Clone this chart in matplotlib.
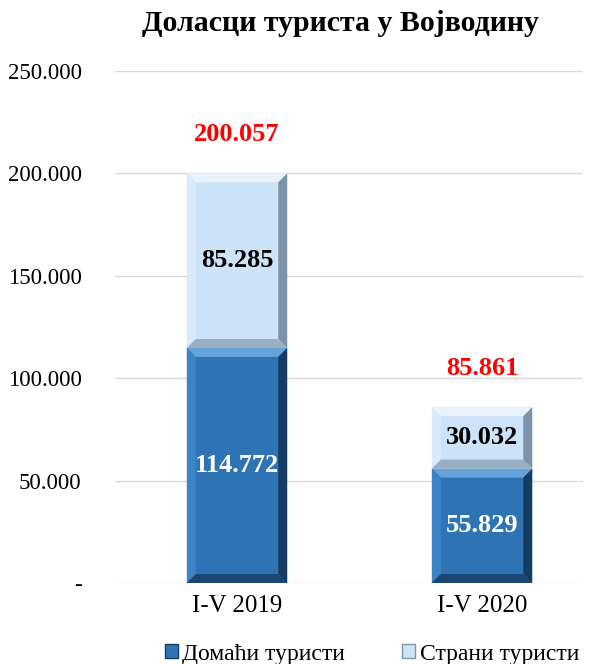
import numpy as np
import matplotlib.pyplot as plt
from matplotlib.patches import Polygon, Patch
from matplotlib.ticker import FuncFormatter

# Data
categories = ['I-V 2019', 'I-V 2020']
domestic = [114772, 55829]
foreign = [85285, 30032]
totals = [200057, 85861]
series_names = ['Домаћи туристи', 'Страни туристи']

plt.rcParams['font.family'] = ['Liberation Serif', 'DejaVu Serif']

fig = plt.figure(figsize=(5.98, 6.64), dpi=100)
ax = fig.add_axes([0.1923, 0.122, 0.7826, 0.771])

x = np.arange(len(categories))
width = 0.41

# colours: (face, top, left, right, bottom)
dom_cols = ('#2E74B5', '#66A3DB', '#3C84C6', '#163C62', '#1C4672')
for_cols = ('#CCE3F8', '#E8F3FD', '#D9EAFA', '#7D93A9', '#9AAFC4')

bars_dom = ax.bar(x, domestic, width, color=dom_cols[0], zorder=2)
bars_for = ax.bar(x, foreign, width, bottom=domestic, color=for_cols[0], zorder=2)

ax.set_xlim(-0.498, 1.412)
ax.set_ylim(0, 250000)
ax.set_yticks(np.arange(0, 250001, 50000))


def fmt(v, pos):
    if v == 0:
        return '-'
    return f'{int(v):,}'.replace(',', '.')


ax.yaxis.set_major_formatter(FuncFormatter(fmt))
ax.set_xticks(x)
ax.set_xticklabels(categories)
ax.tick_params(axis='y', length=0, labelsize=16.5, pad=24)
ax.tick_params(axis='x', length=0, labelsize=18, pad=9)
ax.grid(axis='y', color='#D9D9D9', linewidth=1, zorder=0)
for s in ax.spines.values():
    s.set_visible(False)


# bevel edges drawn in pixel space around each bar
def bevel(bar, cols, b=9):
    (x0, y0), (x1, y1) = ax.transData.transform(
        [(bar.get_x(), bar.get_y()), (bar.get_x() + bar.get_width(), bar.get_y() + bar.get_height())])
    bb = min(b, (y1 - y0) / 2.5)
    pts = {
        'top': [(x0, y1), (x1, y1), (x1 - bb, y1 - bb), (x0 + bb, y1 - bb)],
        'left': [(x0, y0), (x0, y1), (x0 + bb, y1 - bb), (x0 + bb, y0 + bb)],
        'right': [(x1, y0), (x1, y1), (x1 - bb, y1 - bb), (x1 - bb, y0 + bb)],
        'bottom': [(x0, y0), (x1, y0), (x1 - bb, y0 + bb), (x0 + bb, y0 + bb)],
    }
    for key, c in zip(['top', 'left', 'right', 'bottom'], cols[1:]):
        fig.patches.append(Polygon(pts[key], closed=True, facecolor=c, edgecolor='none',
                                   transform=None, zorder=3))


for bar in bars_dom:
    bevel(bar, dom_cols)
for bar in bars_for:
    bevel(bar, for_cols)

# labels
for i in range(len(categories)):
    ax.text(x[i], domestic[i] / 2, f'{domestic[i]:,}'.replace(',', '.'), ha='center', va='center',
            color='white', fontsize=19, fontweight='bold', zorder=5)
    ax.text(x[i], domestic[i] + foreign[i] / 2, f'{foreign[i]:,}'.replace(',', '.'), ha='center',
            va='center', color='black', fontsize=19, fontweight='bold', zorder=5)
    ax.annotate(f'{totals[i]:,}'.replace(',', '.'), (x[i], totals[i]), xytext=(0, 28),
                textcoords='offset points', ha='center', va='center', color='#FF0000',
                fontsize=19, fontweight='bold', zorder=5)

fig.text(0.570, 0.965, 'Доласци туриста у Војводину', ha='center', va='center',
         fontsize=21.5, fontweight='bold')

handles = [Patch(facecolor=dom_cols[0], edgecolor=dom_cols[3]),
           Patch(facecolor=for_cols[0], edgecolor=for_cols[3])]
fig.legend(handles, series_names, loc='center', bbox_to_anchor=(0.622, 0.015), ncol=2,
           frameon=False, fontsize=17, handlelength=0.55, handleheight=0.55, handletextpad=0.2,
           columnspacing=2.4)

fig.savefig('out.png', dpi=100)
